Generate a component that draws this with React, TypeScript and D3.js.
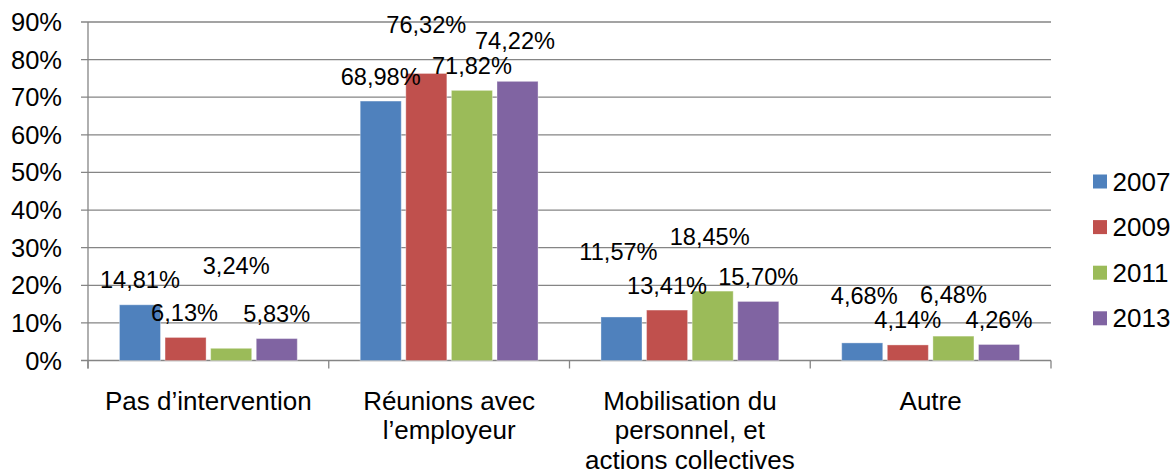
import React from "react";
import * as d3 from "d3";

const categories: string[][] = [
  ["Pas d’intervention"],
  ["Réunions avec", "l’employeur"],
  ["Mobilisation du", "personnel, et", "actions collectives"],
  ["Autre"],
];
const seriesNames = ["2007", "2009", "2011", "2013"];
const values2007 = [14.81, 68.98, 11.57, 4.68];
const values2009 = [6.13, 76.32, 13.41, 4.14];
const values2011 = [3.24, 71.82, 18.45, 6.48];
const values2013 = [5.83, 74.22, 15.7, 4.26];
const yTicks = [0, 10, 20, 30, 40, 50, 60, 70, 80, 90];

// manual label displacement (dx, dy in px) per series per category
const labelShift2007 = [[0, 0], [0, 0], [-3, -40], [2, -22]];
const labelShift2009 = [[-1, 0], [0, -24], [0, 0], [0, 0]];
const labelShift2011 = [[5, -58], [0, 0], [-3, -30], [0, -17]];
const labelShift2013 = [[0, 0], [-2.5, -16], [0, 0], [0, 0]];

const colors = ["#4F81BD", "#C0504D", "#9BBB59", "#8064A2"];
const FONT = "'Liberation Sans', Arial, sans-serif";

export default function App() {
  const W = 1175, H = 473;
  const left = 88, right = 1051, top = 22, bottom = 360.5;
  const allValues = [values2007, values2009, values2011, values2013];
  const shifts = [labelShift2007, labelShift2009, labelShift2011, labelShift2013];

  const y = d3.scaleLinear().domain([0, 90]).range([bottom, top]);
  const x0 = d3.scaleBand<number>().domain(categories.map((_, i) => i)).range([left, right]).padding(0);
  const x1 = d3.scaleBand<number>().domain(seriesNames.map((_, i) => i)).range([0, x0.bandwidth()])
    .paddingInner(0.1).paddingOuter(0.69);

  const fmt = (v: number) => v.toFixed(2).replace(".", ",") + "%";
  const boundaries = d3.range(categories.length + 1).map((i) => left + i * x0.bandwidth());

  return (
    <svg width={W} height={H} style={{ position: "absolute", left: 0, top: 0, background: "#fff" }} fontFamily={FONT}>
      {/* gridlines */}
      {yTicks.map((t) => (
        <line key={"g" + t} x1={left - 7} x2={right} y1={y(t)} y2={y(t)} stroke="#858585" strokeWidth={1.3} />
      ))}
      {/* y axis */}
      <line x1={left} x2={left} y1={top} y2={bottom + 8} stroke="#858585" strokeWidth={1.3} />
      {boundaries.map((bx, i) => (
        <line key={"t" + i} x1={bx} x2={bx} y1={bottom} y2={bottom + 8} stroke="#858585" strokeWidth={1.3} />
      ))}
      {yTicks.map((t) => (
        <text key={"yl" + t} x={62} y={y(t)} textAnchor="end" dominantBaseline="central" fontSize={25.5} fill="#000">
          {t + "%"}
        </text>
      ))}
      {/* bars */}
      {allValues.map((vals, s) =>
        vals.map((v, c) => (
          <rect
            key={`b${s}-${c}`}
            x={(x0(c) as number) + (x1(s) as number)}
            y={y(v)}
            width={x1.bandwidth()}
            height={y(0) - y(v)}
            fill={colors[s]}
            stroke="#ffffff"
            strokeOpacity={0.35}
            strokeWidth={1}
          />
        ))
      )}
      {/* data labels */}
      {allValues.map((vals, s) =>
        vals.map((v, c) => (
          <text
            key={`l${s}-${c}`}
            x={(x0(c) as number) + (x1(s) as number) + x1.bandwidth() / 2 + shifts[s][c][0]}
            y={y(v) - 16.5 + shifts[s][c][1]}
            textAnchor="middle"
            fontSize={23.6}
            fill="#000"
          >
            {fmt(v)}
          </text>
        ))
      )}
      {/* category labels */}
      {categories.map((lines, c) => (
        <text key={"c" + c} x={(x0(c) as number) + x0.bandwidth() / 2} y={409.5} textAnchor="middle" fontSize={26} fill="#000">
          {lines.map((ln, i) => (
            <tspan key={i} x={(x0(c) as number) + x0.bandwidth() / 2} dy={i === 0 ? 0 : 29.5}>
              {ln}
            </tspan>
          ))}
        </text>
      ))}
      {/* legend */}
      {seriesNames.map((n, i) => (
        <g key={"lg" + i} transform={`translate(1093, ${181.5 + i * 45.6})`}>
          <rect x={0} y={-7} width={14} height={14} fill={colors[i]} />
          <text x={19.5} y={0} dominantBaseline="central" fontSize={26} fill="#000">
            {n}
          </text>
        </g>
      ))}
    </svg>
  );
}
